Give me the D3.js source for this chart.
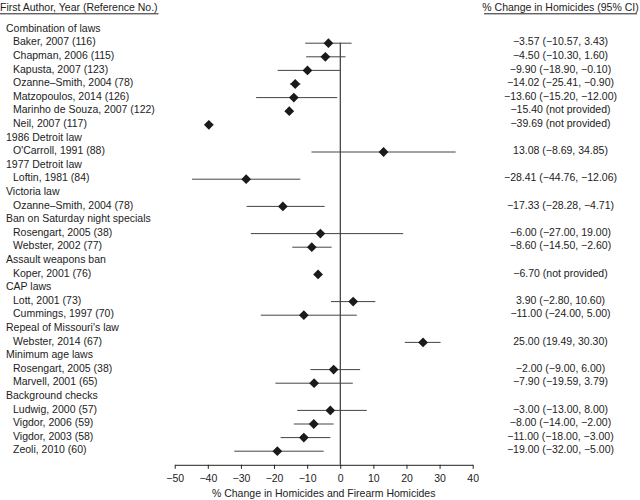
<!DOCTYPE html>
<html>
<head>
<meta charset="utf-8">
<title>Forest plot: % change in homicides</title>
<script src="https://d3js.org/d3.v7.min.js"></script>
<style>
  body { margin: 0; background: #fff; }
  svg text { font-family: "Liberation Sans", Arial, Helvetica, sans-serif; fill: #222; }
</style>
</head>
<body>
<div id="chart"></div>
<script>
// groups of laws, each followed by its studies
var groups = [
  "Combination of laws", "1986 Detroit law", "1977 Detroit law", "Victoria law",
  "Ban on Saturday night specials", "Assault weapons ban", "CAP laws",
  "Repeal of Missouri's law", "Minimum age laws", "Background checks"
];
var studyLabels = [
  "Baker, 2007 (116)", "Chapman, 2006 (115)", "Kapusta, 2007 (123)",
  "Ozanne\u2013Smith, 2004 (78)", "Matzopoulos, 2014 (126)",
  "Marinho de Souza, 2007 (122)", "Neil, 2007 (117)",
  "O'Carroll, 1991 (88)",
  "Loftin, 1981 (84)",
  "Ozanne\u2013Smith, 2004 (78)",
  "Rosengart, 2005 (38)", "Webster, 2002 (77)",
  "Koper, 2001 (76)",
  "Lott, 2001 (73)", "Cummings, 1997 (70)",
  "Webster, 2014 (67)",
  "Rosengart, 2005 (38)", "Marvell, 2001 (65)",
  "Ludwig, 2000 (57)", "Vigdor, 2006 (59)", "Vigdor, 2003 (58)", "Zeoli, 2010 (60)"
];
var studyGroup = [0,0,0,0,0,0,0, 1, 2, 3, 4,4, 5, 6,6, 7, 8,8, 9,9,9,9];
// plotted point estimates and 95% CI (as drawn in the figure)
var estimates = [-3.57, -4.50, -9.90, -13.60, -14.02, -15.40, -39.69,
  13.08, -28.41, -17.33, -6.00, -8.60, -6.70, 3.90, -11.00, 25.00,
  -2.00, -7.90, -3.00, -8.00, -11.00, -19.00];
var ciLow = [-10.57, -10.30, -18.90, -15.20, -25.41, null, null,
  -8.69, -44.76, -28.28, -27.00, -14.50, null, -2.80, -24.00, 19.49,
  -9.00, -19.59, -13.00, -14.00, -18.00, -32.00];
var ciHigh = [3.43, 1.60, -0.10, -12.00, -0.90, null, null,
  34.85, -12.06, -4.71, 19.00, -2.60, null, 10.60, 5.00, 30.30,
  6.00, 3.79, 8.00, -2.00, -3.00, -5.00];
var ciText = [
  "\u22123.57 (\u221210.57, 3.43)", "\u22124.50 (\u221210.30, 1.60)",
  "\u22129.90 (\u221218.90, \u22120.10)", "\u221214.02 (\u221225.41, \u22120.90)",
  "\u221213.60 (\u221215.20, \u221212.00)", "\u221215.40 (not provided)",
  "\u221239.69 (not provided)",
  "13.08 (\u22128.69, 34.85)",
  "\u221228.41 (\u221244.76, \u221212.06)",
  "\u221217.33 (\u221228.28, \u22124.71)",
  "\u22126.00 (\u221227.00, 19.00)", "\u22128.60 (\u221214.50, \u22122.60)",
  "\u22126.70 (not provided)",
  "3.90 (\u22122.80, 10.60)", "\u221211.00 (\u221224.00, 5.00)",
  "25.00 (19.49, 30.30)",
  "\u22122.00 (\u22129.00, 6.00)", "\u22127.90 (\u221219.59, 3.79)",
  "\u22123.00 (\u221213.00, 8.00)", "\u22128.00 (\u221214.00, \u22122.00)",
  "\u221211.00 (\u221218.00, \u22123.00)", "\u221219.00 (\u221232.00, \u22125.00)"
];
var xTicks = [-50, -40, -30, -20, -10, 0, 10, 20, 30, 40];

// build rows: group header then its studies
var rows = [];
groups.forEach(function(g, gi) {
  rows.push({kind: "group", label: g});
  studyGroup.forEach(function(sg, i) {
    if (sg === gi) rows.push({kind: "study", label: studyLabels[i],
      est: estimates[i], lo: ciLow[i], hi: ciHigh[i], txt: ciText[i]});
  });
});

var width = 640, height = 500;
var svg = d3.select("#chart").append("svg")
  .attr("width", width).attr("height", height);

var x = d3.scaleLinear().domain([-50, 40]).range([174.7, 472.7]);
var y = d3.scaleLinear().domain([0, rows.length]).range([29.6, 464.8]);
var fs = 10.5;

// column headers
svg.append("text").attr("x", 0).attr("y", 7).attr("dy", "0.35em")
  .style("font-size", fs + "px").text("First Author, Year (Reference No.)");
svg.append("line").attr("x1", 0).attr("x2", 158.5).attr("y1", 13.8).attr("y2", 13.8)
  .attr("stroke", "#222").attr("stroke-width", 1);
svg.append("text").attr("x", 560.5).attr("y", 7).attr("dy", "0.35em")
  .attr("text-anchor", "middle")
  .style("font-size", fs + "px").text("% Change in Homicides (95% CI)");
svg.append("line").attr("x1", 484).attr("x2", 637).attr("y1", 13.8).attr("y2", 13.8)
  .attr("stroke", "#222").attr("stroke-width", 1);

// left labels
svg.selectAll("text.lab").data(rows).enter().append("text")
  .attr("class", "lab")
  .attr("x", function(d) { return d.kind === "group" ? 6 : 13; })
  .attr("y", function(d, i) { return y(i) - 1.5; })
  .attr("dy", "0.35em")
  .style("font-size", fs + "px")
  .text(function(d) { return d.label; });

var studies = rows.map(function(d, i) { d.row = i; return d; })
  .filter(function(d) { return d.kind === "study"; });

// right column estimate text
svg.selectAll("text.ci").data(studies).enter().append("text")
  .attr("class", "ci")
  .attr("x", 560.5)
  .attr("y", function(d) { return y(d.row) - 1.5; })
  .attr("dy", "0.35em")
  .attr("text-anchor", "middle")
  .style("font-size", fs + "px")
  .text(function(d) { return d.txt; });

// zero reference line
svg.append("line")
  .attr("x1", x(0)).attr("x2", x(0))
  .attr("y1", y(1) - 0.5).attr("y2", y(rows.length))
  .attr("stroke", "#111").attr("stroke-width", 1);

// CI lines
svg.selectAll("line.ci").data(studies.filter(function(d) { return d.lo !== null; }))
  .enter().append("line")
  .attr("class", "ci")
  .attr("x1", function(d) { return x(d.lo); })
  .attr("x2", function(d) { return x(d.hi); })
  .attr("y1", function(d) { return y(d.row); })
  .attr("y2", function(d) { return y(d.row); })
  .attr("stroke", "#444").attr("stroke-width", 1);

// diamonds
var r = 4.9;
svg.selectAll("path.pt").data(studies).enter().append("path")
  .attr("class", "pt")
  .attr("transform", function(d) { return "translate(" + x(d.est) + "," + y(d.row) + ")"; })
  .attr("d", "M0," + (-r) + "L" + r + ",0L0," + r + "L" + (-r) + ",0Z")
  .attr("fill", "#1a1a1a");

// x axis
var ax = svg.append("g")
  .attr("transform", "translate(0," + y(rows.length) + ")")
  .call(d3.axisBottom(x).tickValues(xTicks).tickSize(4).tickSizeOuter(0));
ax.select(".domain").attr("stroke", "#222");
ax.selectAll(".tick line").attr("stroke", "#222");
ax.selectAll(".tick text")
  .style("font-size", fs + "px")
  .style("font-family", "Liberation Sans, Arial, sans-serif")
  .attr("fill", "#222").attr("dy", "0.95em");

svg.append("text")
  .attr("x", (x(-50) + x(40)) / 2).attr("y", 493).attr("dy", "0.35em")
  .attr("text-anchor", "middle")
  .style("font-size", fs + "px")
  .text("% Change in Homicides and Firearm Homicides");
</script>
</body>
</html>
